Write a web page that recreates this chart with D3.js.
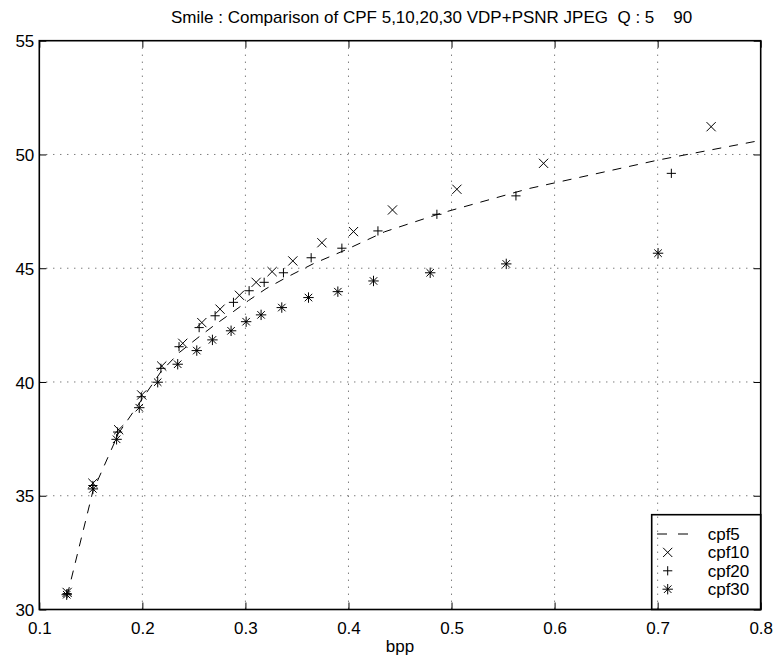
<!DOCTYPE html>
<html>
<head>
<meta charset="utf-8">
<script src="https://cdn.jsdelivr.net/npm/d3@7"></script>
<style>
  body { margin: 0; background: #fff; }
  text { font-family: "Liberation Sans", Arial, Helvetica, sans-serif; fill: #000; }
</style>
</head>
<body>
<div id="chart"></div>
<script>
// Axis ticks
const xTicks = [0.1, 0.2, 0.3, 0.4, 0.5, 0.6, 0.7, 0.8];
const yTicks = [30, 35, 40, 45, 50, 55];

// cpf5 (dashed line)
const cpf5Bpp  = [0.127, 0.152, 0.177, 0.199, 0.218, 0.236, 0.254, 0.270, 0.287, 0.303, 0.320, 0.340, 0.366, 0.397, 0.435, 0.490, 0.575, 0.700, 0.800];
const cpf5Psnr = [30.6, 35.2, 37.75, 39.2, 40.45, 41.3, 41.95, 42.5, 43.05, 43.58, 44.1, 44.6, 45.2, 45.8, 46.6, 47.42, 48.5, 49.75, 50.62];

// cpf10 (x markers)
const cpf10Bpp  = [0.127, 0.152, 0.177, 0.1994, 0.2188, 0.2392, 0.2577, 0.2754, 0.2942, 0.3104, 0.3259, 0.346, 0.3742, 0.4049, 0.4427, 0.5052, 0.5893, 0.7519];
const cpf10Psnr = [30.75, 35.55, 37.9, 39.43, 40.7, 41.7, 42.61, 43.2, 43.81, 44.38, 44.85, 45.32, 46.12, 46.61, 47.56, 48.47, 49.61, 51.22];

// cpf20 (+ markers)
const cpf20Bpp  = [0.127, 0.152, 0.176, 0.199, 0.218, 0.2356, 0.2551, 0.2706, 0.2884, 0.3036, 0.3182, 0.3369, 0.3638, 0.3936, 0.4286, 0.4858, 0.5625, 0.7133];
const cpf20Psnr = [30.7, 35.45, 37.8, 39.35, 40.6, 41.55, 42.39, 42.91, 43.5, 44.01, 44.38, 44.8, 45.46, 45.88, 46.64, 47.37, 48.18, 49.17];

// cpf30 (* markers)
const cpf30Bpp  = [0.1266, 0.152, 0.175, 0.197, 0.2149, 0.2343, 0.2528, 0.268, 0.2861, 0.3007, 0.3152, 0.3353, 0.3612, 0.3897, 0.4243, 0.4793, 0.5531, 0.7004];
const cpf30Psnr = [30.65, 35.3, 37.48, 38.87, 39.99, 40.78, 41.38, 41.85, 42.25, 42.65, 42.95, 43.27, 43.71, 43.97, 44.44, 44.8, 45.19, 45.66];

const width = 778, height = 661;
const plot = { left: 39.3, right: 760.7, top: 40.7, bottom: 609.5 };

const svg = d3.select('#chart').append('svg')
  .attr('width', width).attr('height', height);

const x = d3.scaleLinear().domain([0.1, 0.8]).range([plot.left, plot.right]);
const y = d3.scaleLinear().domain([30, 55]).range([plot.bottom, plot.top]);

// Grid (dotted)
const grid = svg.append('g').attr('stroke', '#444').attr('stroke-width', 1)
  .attr('stroke-dasharray', '1,6');
grid.selectAll('line.gx').data(xTicks.slice(1, -1)).join('line')
  .attr('x1', (d) => x(d)).attr('x2', (d) => x(d))
  .attr('y1', plot.top).attr('y2', plot.bottom);
grid.selectAll('line.gy').data(yTicks.slice(1, -1)).join('line')
  .attr('y1', (d) => y(d)).attr('y2', (d) => y(d))
  .attr('x1', plot.left).attr('x2', plot.right);

// Axes: ticks inward on all four sides
const tickLen = 7;
const bottomAxis = svg.append('g').attr('transform', `translate(0,${plot.bottom})`)
  .call(d3.axisBottom(x).tickValues(xTicks).tickSize(-tickLen).tickPadding(12)
    .tickFormat(d3.format('.1f')));
const topAxis = svg.append('g').attr('transform', `translate(0,${plot.top})`)
  .call(d3.axisTop(x).tickValues(xTicks).tickSize(-tickLen).tickFormat(''));
const leftAxis = svg.append('g').attr('transform', `translate(${plot.left},0)`)
  .call(d3.axisLeft(y).tickValues(yTicks).tickSize(-tickLen).tickPadding(5));
const rightAxis = svg.append('g').attr('transform', `translate(${plot.right},0)`)
  .call(d3.axisRight(y).tickValues(yTicks).tickSize(-tickLen).tickFormat(''));

[bottomAxis, topAxis, leftAxis, rightAxis].forEach((a) => {
  a.select('.domain').remove();
  a.selectAll('line').attr('stroke', '#000').attr('stroke-width', 1);
  a.selectAll('text').attr('font-size', 17).attr('fill', '#000');
});
leftAxis.selectAll('text').attr('dy', '0.36em');
bottomAxis.selectAll('text').attr('dy', '0.71em');

// Box
svg.append('rect')
  .attr('x', plot.left).attr('y', plot.top)
  .attr('width', plot.right - plot.left).attr('height', plot.bottom - plot.top)
  .attr('fill', 'none').attr('stroke', '#000').attr('stroke-width', 1.6);

// Marker shapes
const r = 4.6;
const rs = 5.2;
const markers = {
  x: `M${-r},${-r}L${r},${r}M${-r},${r}L${r},${-r}`,
  plus: `M${-r},0L${r},0M0,${-r}L0,${r}`,
  star: `M${-rs},0L${rs},0M0,${-rs}L0,${rs}M${-rs * 0.72},${-rs * 0.72}L${rs * 0.72},${rs * 0.72}M${-rs * 0.72},${rs * 0.72}L${rs * 0.72},${-rs * 0.72}`,
};
const markerWidth = { x: 1, plus: 1, star: 1 };

// cpf5 dashed line
const cpf5 = cpf5Bpp.map((b, i) => ({ bpp: b, psnr: cpf5Psnr[i] }));
svg.append('path').datum(cpf5)
  .attr('d', d3.line().x((d) => x(d.bpp)).y((d) => y(d.psnr)))
  .attr('fill', 'none').attr('stroke', '#000').attr('stroke-width', 1)
  .attr('stroke-dasharray', '9,8');

function drawMarkers(bpp, psnr, shape) {
  const data = bpp.map((b, i) => ({ bpp: b, psnr: psnr[i] }));
  svg.append('g').selectAll('path').data(data).join('path')
    .attr('transform', (d) => `translate(${x(d.bpp)},${y(d.psnr)})`)
    .attr('d', markers[shape])
    .attr('fill', 'none').attr('stroke', '#000').attr('stroke-width', markerWidth[shape]);
}
drawMarkers(cpf10Bpp, cpf10Psnr, 'x');
drawMarkers(cpf20Bpp, cpf20Psnr, 'plus');
drawMarkers(cpf30Bpp, cpf30Psnr, 'star');

// Title and axis label
svg.append('text')
  .attr('x', 171).attr('y', 23)
  .attr('font-size', 17)
  .style('white-space', 'pre')
  .text('Smile : Comparison of CPF 5,10,20,30 VDP+PSNR JPEG  Q : 5    90');

svg.append('text')
  .attr('x', (plot.left + plot.right) / 2).attr('y', 652)
  .attr('text-anchor', 'middle').attr('font-size', 17)
  .text('bpp');

// Legend
const legendNames = ['cpf5', 'cpf10', 'cpf20', 'cpf30'];
const legendShapes = [null, 'x', 'plus', 'star'];
const lg = svg.append('g');
lg.append('rect')
  .attr('x', 651.7).attr('y', 514.7)
  .attr('width', plot.right - 651.7).attr('height', plot.bottom - 514.7)
  .attr('fill', 'none').attr('stroke', '#000').attr('stroke-width', 1.6);
legendNames.forEach((name, i) => {
  const cy = 534 + i * 18.4;
  if (legendShapes[i] === null) {
    lg.append('line')
      .attr('x1', 657).attr('x2', 689).attr('y1', cy).attr('y2', cy)
      .attr('stroke', '#000').attr('stroke-width', 1).attr('stroke-dasharray', '10,11');
  } else {
    lg.append('path')
      .attr('transform', `translate(667.7,${cy})`)
      .attr('d', markers[legendShapes[i]])
      .attr('fill', 'none').attr('stroke', '#000').attr('stroke-width', markerWidth[legendShapes[i]]);
  }
  lg.append('text')
    .attr('x', 707.7).attr('y', cy + 6)
    .attr('font-size', 17)
    .text(name);
});
</script>
</body>
</html>
